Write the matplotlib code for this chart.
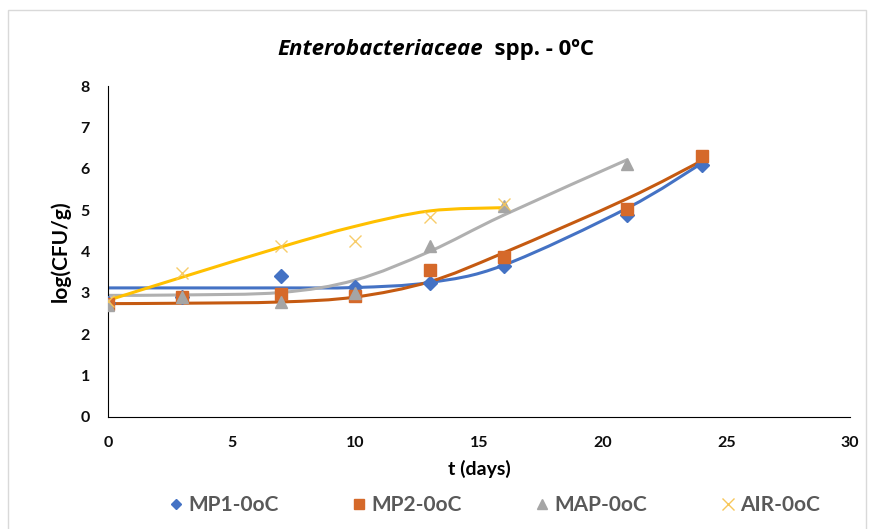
import matplotlib
matplotlib.use('Agg')
import matplotlib.pyplot as plt
from matplotlib.path import Path
from matplotlib.patches import PathPatch, Rectangle
from matplotlib.lines import Line2D

plt.rcParams['font.family'] = ['Lato', 'DejaVu Sans']

# sampling times (days)
t_mp1 = [0, 3, 7, 10, 13, 16, 21, 24]
t_mp2 = [0, 3, 7, 10, 13, 16, 21, 24]
t_map = [0, 3, 7, 10, 13, 16, 21]
t_air = [0, 3, 7, 10, 13, 16]

# observed counts, log(CFU/g)
obs_mp1 = [2.75, 2.90, 3.41, 3.15, 3.24, 3.65, 4.88, 6.09]
obs_mp2 = [2.73, 2.90, 2.97, 2.93, 3.55, 3.87, 5.02, 6.31]
obs_map = [2.70, 2.90, 2.78, 3.00, 4.13, 5.10, 6.12]
obs_air = [2.80, 3.49, 4.13, 4.26, 4.83, 5.14]

# fitted growth model values at the sampling times
fit_mp1 = [3.12, 3.12, 3.12, 3.13, 3.25, 3.67, 5.05, 6.13]
fit_mp2 = [2.74, 2.75, 2.78, 2.90, 3.27, 3.97, 5.28, 6.19]
fit_map = [2.94, 2.95, 3.01, 3.31, 4.00, 4.88, 6.22]
fit_air = [2.82, 3.38, 4.11, 4.61, 4.98, 5.06]

labels = ['MP1-0oC', 'MP2-0oC', 'MAP-0oC', 'AIR-0oC']


def smooth_path(x, y):
    # Catmull-Rom style bezier through every point (spreadsheet "smoothed line")
    n = len(x)
    verts = [(x[0], y[0])]
    codes = [Path.MOVETO]
    for i in range(n - 1):
        i0 = max(i - 1, 0)
        i3 = min(i + 2, n - 1)
        c1 = (x[i] + (x[i + 1] - x[i0]) / 6.0, y[i] + (y[i + 1] - y[i0]) / 6.0)
        c2 = (x[i + 1] - (x[i3] - x[i]) / 6.0, y[i + 1] - (y[i3] - y[i]) / 6.0)
        verts += [c1, c2, (x[i + 1], y[i + 1])]
        codes += [Path.CURVE4] * 3
    return Path(verts, codes)


fig = plt.figure(figsize=(8.74, 5.29), dpi=100)
fig.patches.append(Rectangle((8 / 874, -0.02), 858 / 874, 1 - 10 / 529 + 0.02,
                             transform=fig.transFigure, fill=False,
                             edgecolor='#d9d9d9', linewidth=1.0))

ax = fig.add_axes([108 / 874, 1 - 417 / 529, 742 / 874, 331 / 529])

series = [
    (t_mp1, obs_mp1, fit_mp1, 'D', '#4472c4', '#4472c4', 7, 1.0),
    (t_mp2, obs_mp2, fit_mp2, 's', '#d5692a', '#c55a11', 8, 1.0),
    (t_map, obs_map, fit_map, '^', '#a5a5a5', '#b0b0b0', 8, 1.0),
    (t_air, obs_air, fit_air, 'x', '#f7c75a', '#ffc000', 9, 0.9),
]

handles = []
for (t, obs, fit, mk, mcol, lcol, ms, alpha), lab in zip(series, labels):
    ax.add_patch(PathPatch(smooth_path(t, fit), facecolor='none',
                           edgecolor=lcol, linewidth=2.2, zorder=2))
    if mk == 'x':
        ax.plot(t, obs, linestyle='none', marker=mk, markersize=ms,
                markeredgecolor=mcol, markeredgewidth=1.0, alpha=alpha, zorder=3)
    else:
        ax.plot(t, obs, linestyle='none', marker=mk, markersize=ms,
                markerfacecolor=mcol, markeredgecolor=mcol, zorder=3)
    hs = ms - 2 if mk == 'D' else ms - 1
    handles.append(Line2D([], [], linestyle='none', marker=mk, markersize=hs,
                          color=mcol, markeredgewidth=1.0))

ax.set_xlim(0, 30)
ax.set_ylim(0, 8)
ax.set_xticks(range(0, 31, 5))
ax.set_yticks(range(0, 9))
for s in ['top', 'right']:
    ax.spines[s].set_visible(False)
ax.spines['left'].set_color('#000000')
ax.spines['bottom'].set_color('#000000')
ax.tick_params(length=0, labelsize=11.5, labelcolor='#0d0d0d')
ax.tick_params(axis='x', pad=14)
ax.tick_params(axis='y', pad=13)
for lbl in ax.get_xticklabels() + ax.get_yticklabels():
    lbl.set_fontweight('bold')

ax.set_xlabel('t (days)', fontsize=14, fontweight='bold', labelpad=7)
ax.set_ylabel('log(CFU/g)', fontsize=15, fontweight='bold', labelpad=7)

# title: italic genus name followed by plain text
t1 = fig.text(277 / 874, 1 - 55 / 529, 'Enterobacteriaceae', fontsize=16,
              family=['Open Sans', 'DejaVu Sans'],
              fontweight='bold', fontstyle='italic', ha='left', va='baseline')
ax.annotate('  spp. - 0ºC', xy=(1, 0), xycoords=t1, fontsize=16,
            family=['Open Sans', 'DejaVu Sans'],
            fontweight='bold', ha='left', va='bottom')

fig.legend(handles, labels, loc='center', bbox_to_anchor=(494 / 874, 1 - 505 / 529),
           ncol=4, frameon=False, handletextpad=0.2,
           columnspacing=3.45, handlelength=0.8,
           prop={'weight': 'bold', 'size': 15}, labelcolor='#595959')

fig.savefig('out.png', dpi=100)
